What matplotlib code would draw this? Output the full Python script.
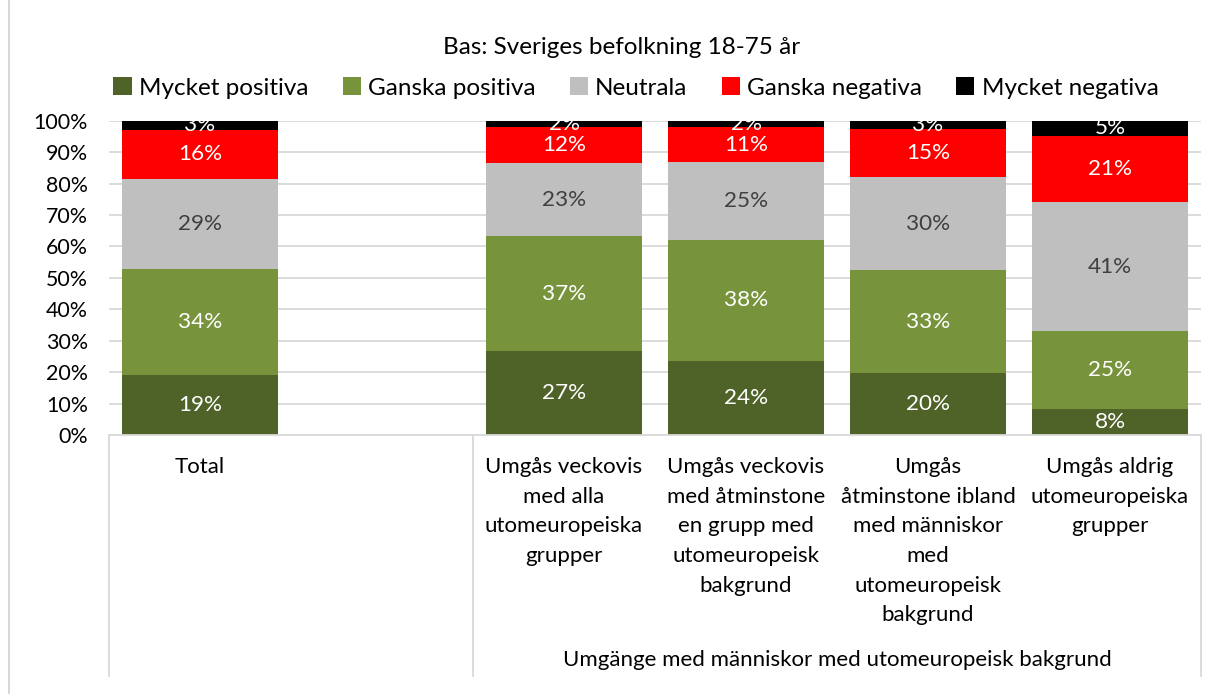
import matplotlib
matplotlib.use("Agg")
import matplotlib.pyplot as plt
from matplotlib.lines import Line2D
import matplotlib.transforms as mtransforms

plt.rcParams['font.family'] = ['Lato', 'DejaVu Sans']

categories = ["Total",
              "Umgås veckovis\nmed alla\nutomeuropeiska\ngrupper",
              "Umgås veckovis\nmed åtminstone\nen grupp med\nutomeuropeisk\nbakgrund",
              "Umgås\nåtminstone ibland\nmed människor\nmed\nutomeuropeisk\nbakgrund",
              "Umgås aldrig\nutomeuropeiska\ngrupper"]
positions = [0, 2, 3, 4, 5]
series_names = ["Mycket positiva", "Ganska positiva", "Neutrala", "Ganska negativa", "Mycket negativa"]
mycket_positiva = [19.0, 26.6, 23.7, 19.6, 8.4]
ganska_positiva = [33.8, 36.7, 38.3, 32.8, 24.8]
neutrala = [28.6, 23.2, 24.8, 29.7, 40.8]
ganska_negativa = [15.8, 11.6, 11.1, 15.3, 21.2]
mycket_negativa = [2.8, 1.9, 2.1, 2.6, 4.8]
yticks = [0, 10, 20, 30, 40, 50, 60, 70, 80, 90, 100]
title = "Bas: Sveriges befolkning 18-75 år"
group_label = "Umgänge med människor med utomeuropeisk bakgrund"

series = [mycket_positiva, ganska_positiva, neutrala, ganska_negativa, mycket_negativa]
colors = ["#4F6228", "#77933C", "#BFBFBF", "#FF0000", "#000000"]
label_colors = ["white", "white", "#404040", "white", "white"]

W, H = 1225, 694
fig = plt.figure(figsize=(W / 100, H / 100), dpi=100)
ax_left, ax_right, ax_top, ax_bottom = 109, 1201, 120.7, 435
ax = fig.add_axes([ax_left / W, 1 - ax_bottom / H, (ax_right - ax_left) / W, (ax_bottom - ax_top) / H])

bottoms = [0.0] * len(positions)
fs_lab = 16.2
fs_tick = 15.4
fs_cat = 16
fs_leg = 17.5
for name, vals, c, lc in zip(series_names, series, colors, label_colors):
    bars = ax.bar(positions, vals, bottom=bottoms, width=0.857, color=c, label=name, zorder=2)
    for x, v, b in zip(positions, vals, bottoms):
        ax.text(x, b + v / 2, f"{round(v):.0f}%", ha="center", va="center",
                color=lc, fontsize=fs_lab, zorder=3, clip_on=False)
    bottoms = [b + v for b, v in zip(bottoms, vals)]

ax.set_xlim(-0.5, 5.5)
ax.set_ylim(0, 100)
ax.set_yticks(yticks)
ax.set_yticklabels([f"{t}%" for t in yticks], fontsize=fs_tick)
ax.tick_params(axis="y", length=0, pad=15)
ax.grid(axis="y", color="#D9D9D9", linewidth=1.3, zorder=0)
ax.set_axisbelow(True)
for s in ["top", "right", "left"]:
    ax.spines[s].set_visible(False)
ax.spines["bottom"].set_color("#D9D9D9")
ax.spines["bottom"].set_linewidth(1.3)

ax.set_xticks(positions)
ax.set_xticklabels(categories, fontsize=fs_cat, linespacing=1.6, va="top")
ax.tick_params(axis="x", length=0, pad=16)

trans = mtransforms.blended_transform_factory(ax.transData, ax.transAxes)
low = (ax_bottom - 676) / (ax_bottom - ax_top)
for xs in [-0.5, 1.5, 5.5]:
    ax.plot([xs, xs], [0, low], transform=trans, color="#D9D9D9", linewidth=1.3, clip_on=False)

ax.text(3.5, (ax_bottom - 660) / (ax_bottom - ax_top), group_label, transform=trans,
        ha="center", va="center", fontsize=fs_cat)

fig.text(622 / W, 1 - 47 / H, title, ha="center", va="center", fontsize=fs_leg)
leg = fig.legend(loc="center", bbox_to_anchor=(636 / W, 1 - 88 / H), ncol=5, frameon=False,
                 fontsize=fs_leg, handlelength=0.75, handleheight=0.75, handletextpad=0.3,
                 columnspacing=1.4)

fig.add_artist(Line2D([8.5 / W, 8.5 / W], [0, 1], color="#D9D9D9", linewidth=1.5))

fig.savefig("out.png", dpi=100)
